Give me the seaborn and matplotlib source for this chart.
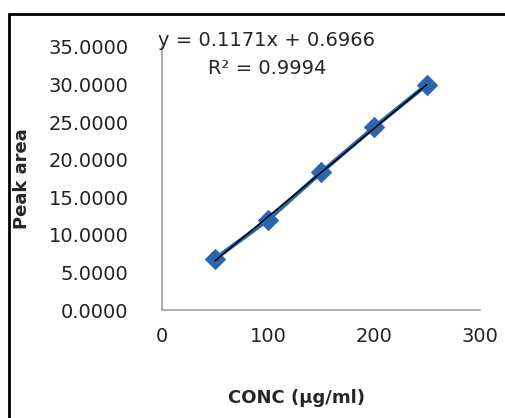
import numpy as np
import pandas as pd
import matplotlib
matplotlib.use("Agg")
import matplotlib.pyplot as plt
import seaborn as sns
from matplotlib.patches import Rectangle

# calibration data
conc = [50, 100, 150, 200, 250]
peak_area = [6.8, 12.0, 18.3, 24.3, 30.0]
x_ticks = [0, 100, 200, 300]
y_ticks = [0, 5, 10, 15, 20, 25, 30, 35]
equation = "y = 0.1171x + 0.6966"
r_squared = "R² = 0.9994"

df = pd.DataFrame({"conc": conc, "area": peak_area})

sns.set_style("white")
plt.rcParams["font.family"] = ["DejaVu Sans"]

fig = plt.figure(figsize=(5.05, 4.18), dpi=100)
ax = fig.add_axes([162 / 505, 1 - 310 / 418, 318 / 505, 263 / 418])

# series line with diamond markers
sns.lineplot(data=df, x="conc", y="area", ax=ax, color="#2b65ae", lw=3,
             marker="D", markersize=10, markeredgecolor="#2b65ae")
# linear trendline
sns.regplot(data=df, x="conc", y="area", ax=ax, scatter=False, ci=None,
            truncate=True, line_kws={"color": "black", "lw": 1.1})

ax.set_xlim(0, 300)
ax.set_ylim(0, 35)
ax.set_xticks(x_ticks)
ax.set_yticks(y_ticks)
ax.set_yticklabels([f"{v:.4f}" for v in y_ticks])
ax.tick_params(axis="both", length=0, labelsize=14, colors="#222222")
ax.tick_params(axis="x", pad=12)
ax.tick_params(axis="y", pad=24)
for s in ["top", "right"]:
    ax.spines[s].set_visible(False)
for s in ["left", "bottom"]:
    ax.spines[s].set_color("#a0a0a0")
    ax.spines[s].set_linewidth(1.2)

ax.set_xlabel("CONC (µg/ml)", fontsize=13, fontweight="bold", va="center")
ax.xaxis.set_label_coords((296 - 162) / 318, (310 - 398) / 263)
ax.set_ylabel("Peak area", fontsize=13, fontweight="bold", va="center")
ax.yaxis.set_label_coords((22 - 162) / 318, 0.5)

# trendline equation, centred above the points
fig.text(267 / 505, 1 - 41 / 418, equation, fontsize=14, va="center", ha="center")
fig.text(267 / 505, 1 - 69 / 418, r_squared, fontsize=14, va="center", ha="center")

# frame around the figure
fig.patches.append(Rectangle((8.5 / 505, -0.05), 1.1, 1 - 14 / 418 + 0.05,
                             transform=fig.transFigure, fill=False,
                             edgecolor="black", lw=2, zorder=10))

fig.savefig("out.png", dpi=100)
